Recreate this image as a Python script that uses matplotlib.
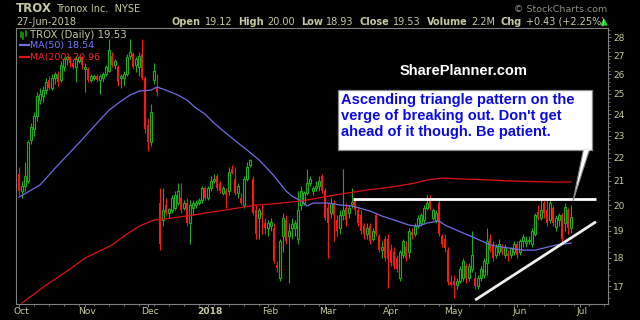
import matplotlib
matplotlib.use("Agg")
import matplotlib.pyplot as plt
import numpy as np
from matplotlib.patches import Rectangle, Polygon
from matplotlib.lines import Line2D
from matplotlib.ticker import FixedLocator, NullFormatter

# daily candles, Oct 2 2017 .. Jun 27 2018 (trading day index 0..184)
opens = [21.3, 20.6, 20.8, 21.0, 22.8, 23.3, 23.9, 24.7, 24.9, 25.2,
         25.7, 25.3, 25.8, 26.0, 25.7, 26.4, 26.8, 26.9, 26.6, 26.4,
         26.7, 26.9, 26.3, 26.3, 25.7, 25.8, 25.9, 25.7, 25.8, 26.0,
         26.2, 27.0, 26.5, 26.4, 25.8, 25.8, 26.0, 27.0, 27.1, 26.5,
         26.4, 27.1, 25.8, 23.5, 22.7, 25.7, 25.3, 20.1, 19.4, 20.0,
         19.7, 19.8, 19.9, 20.1, 20.3, 19.9, 20.1, 19.3, 19.9, 20.0,
         20.1, 20.2, 20.7, 20.3, 20.7, 21.0, 21.2, 20.9, 20.5, 20.6,
         20.6, 21.5, 21.1, 20.5, 20.3, 20.0, 21.1, 21.7, 21.1, 19.8,
         19.5, 19.7, 19.3, 19.1, 19.2, 19.1, 17.75, 17.3, 18.8, 19.4,
         18.8, 19.1, 19.1, 18.7, 20.0, 20.1, 20.5, 20.9, 20.6, 20.7,
         20.8, 21.2, 20.6, 19.9, 19.7, 20.1, 19.4, 19.1, 19.6, 19.9,
         19.7, 20.05, 20.2, 19.8, 19.6, 19.2, 18.9, 19.2, 18.7, 19.6,
         18.8, 18.3, 18.7, 18.7, 18.3, 18.2, 18.0, 17.3, 18.1, 18.4,
         18.2, 18.95, 18.9, 19.2, 19.3, 19.4, 19.9, 20.3, 19.5, 19.4,
         20.1, 18.8, 18.7, 18.3, 17.15, 17.2, 17.05, 17.2, 17.3, 17.7,
         17.3, 17.6, 17.3, 17.0, 17.3, 17.4, 17.8, 18.7, 18.5, 18.1,
         18.2, 18.4, 18.1, 18.15, 18.1, 18.2, 18.5, 18.2, 18.6, 18.55,
         18.6, 18.5, 18.9, 19.75, 19.5, 20.1, 19.8, 19.4, 19.9, 19.15,
         19.4, 19.6, 19.3, 19.8, 19.12]
highs = [21.6, 21.0, 21.8, 22.8, 23.6, 24.1, 25.1, 25.3, 25.4, 25.8,
         25.9, 26.0, 26.1, 26.2, 26.7, 26.9, 27.0, 27.0, 26.8, 27.0,
         27.0, 27.0, 26.6, 26.4, 26.0, 26.0, 26.0, 26.0, 26.1, 26.5,
         27.9, 27.2, 26.8, 26.5, 26.0, 26.2, 27.1, 27.9, 27.2, 26.9,
         27.2, 27.9, 25.9, 23.8, 24.5, 26.6, 26.0, 20.7, 20.7, 20.3,
         19.9, 20.4, 20.6, 20.9, 20.9, 20.2, 20.3, 20.2, 20.2, 20.2,
         20.3, 20.8, 20.8, 20.8, 21.2, 21.3, 21.3, 21.0, 20.8, 20.7,
         21.6, 21.7, 21.6, 20.9, 20.5, 21.2, 21.8, 21.95, 21.2, 20.0,
         19.9, 20.0, 19.5, 19.4, 19.5, 19.3, 17.9, 18.7, 19.7, 19.6,
         19.3, 19.5, 19.4, 20.6, 20.8, 20.6, 21.5, 21.2, 20.8, 21.0,
         21.2, 21.3, 20.7, 20.1, 20.3, 20.2, 19.6, 19.8, 21.5, 20.1,
         20.0, 20.7, 20.3, 19.9, 19.8, 19.3, 19.3, 19.3, 19.1, 19.7,
         18.9, 18.6, 18.8, 18.9, 18.5, 18.4, 18.1, 18.3, 18.7, 18.6,
         19.1, 19.1, 19.3, 19.6, 19.7, 20.0, 20.4, 20.4, 19.9, 19.8,
         20.2, 18.9, 18.9, 18.4, 17.4, 17.4, 17.3, 17.7, 18.0, 17.8,
         17.8, 19.0, 17.5, 17.4, 17.7, 18.0, 19.1, 18.9, 18.6, 18.5,
         18.7, 18.5, 18.5, 18.3, 18.4, 18.6, 18.6, 18.7, 18.9, 18.8,
         18.8, 19.1, 19.7, 20.0, 20.2, 20.2, 20.2, 20.2, 20.0, 19.6,
         19.7, 19.7, 20.1, 19.9, 20.0]
lows = [20.4, 20.3, 20.6, 20.9, 22.6, 23.0, 23.7, 24.5, 24.6, 25.0,
        25.2, 25.2, 25.5, 25.4, 25.6, 26.2, 26.5, 26.4, 26.3, 25.6,
        26.6, 26.3, 25.1, 25.6, 25.6, 25.7, 25.6, 25.0, 25.6, 25.9,
        26.1, 26.4, 26.3, 25.4, 25.3, 25.4, 25.9, 26.8, 26.3, 26.1,
        25.9, 25.7, 23.1, 22.3, 22.5, 25.5, 24.9, 18.3, 19.2, 19.6,
        19.5, 19.7, 19.8, 20.0, 19.7, 19.8, 19.2, 18.5, 19.6, 19.9,
        20.0, 20.1, 20.2, 20.2, 20.6, 20.9, 20.6, 20.5, 20.4, 19.9,
        20.4, 21.3, 20.4, 20.3, 20.0, 19.9, 21.0, 21.6, 19.6, 18.7,
        18.7, 18.9, 18.9, 18.8, 19.0, 17.8, 17.5, 17.2, 18.2, 18.5,
        17.1, 18.7, 18.8, 18.5, 19.8, 20.0, 20.4, 20.8, 20.4, 20.6,
        20.6, 20.5, 19.4, 18.0, 19.5, 18.6, 18.8, 18.9, 19.4, 19.2,
        19.5, 19.9, 19.6, 19.2, 18.9, 18.7, 18.7, 18.5, 18.6, 18.8,
        18.2, 18.0, 17.9, 16.95, 17.7, 17.6, 17.5, 17.2, 18.0, 17.9,
        18.0, 18.7, 18.8, 19.1, 19.2, 19.3, 19.8, 19.8, 19.4, 19.3,
        18.8, 18.4, 18.2, 17.05, 17.0, 16.6, 16.9, 17.1, 17.2, 17.1,
        17.2, 17.5, 16.9, 16.9, 17.2, 17.3, 17.4, 18.2, 17.9, 18.0,
        18.1, 18.1, 18.0, 17.9, 18.0, 18.1, 18.0, 18.1, 18.4, 18.4,
        18.5, 18.4, 18.8, 19.4, 19.4, 19.5, 19.2, 19.3, 19.2, 19.0,
        19.2, 18.5, 19.0, 18.9, 18.93]
closes = [20.6, 20.8, 21.2, 22.7, 23.4, 23.9, 24.9, 25.0, 25.2, 25.6,
          25.3, 25.8, 26.0, 25.6, 26.5, 26.8, 26.9, 26.6, 26.4, 26.8,
          26.9, 26.5, 26.4, 25.7, 25.9, 25.9, 25.7, 25.9, 26.0, 26.4,
          27.3, 26.5, 26.7, 25.6, 25.9, 26.0, 26.9, 27.2, 26.4, 26.8,
          27.0, 25.8, 23.3, 22.7, 24.1, 26.2, 25.1, 18.5, 19.8, 19.7,
          19.85, 20.3, 20.4, 20.6, 19.8, 20.1, 19.3, 20.0, 20.1, 20.1,
          20.2, 20.7, 20.3, 20.7, 21.0, 21.1, 20.7, 20.6, 20.7, 20.4,
          21.4, 21.35, 20.5, 20.8, 20.1, 21.1, 21.6, 21.9, 19.7, 18.9,
          19.8, 19.6, 19.1, 19.3, 19.35, 17.9, 17.65, 18.6, 19.5, 18.6,
          19.0, 19.25, 19.3, 19.8, 20.6, 20.5, 20.9, 21.1, 20.7, 20.8,
          21.0, 20.6, 19.5, 19.3, 20.1, 19.6, 19.0, 19.6, 19.8, 19.4,
          19.9, 20.15, 19.8, 19.3, 19.0, 18.9, 19.1, 18.6, 19.0, 18.9,
          18.3, 18.4, 18.0, 17.95, 17.8, 17.7, 17.6, 18.2, 18.6, 18.0,
          19.0, 18.85, 19.2, 19.5, 19.6, 19.9, 20.1, 19.9, 19.8, 19.7,
          18.9, 18.5, 18.35, 17.15, 17.05, 17.05, 17.2, 17.6, 17.9, 17.3,
          17.7, 18.1, 17.0, 17.3, 17.6, 17.9, 18.6, 18.3, 18.0, 18.4,
          18.5, 18.2, 18.4, 18.05, 18.35, 18.5, 18.1, 18.6, 18.75, 18.6,
          18.65, 19.0, 19.6, 19.5, 19.8, 19.7, 19.3, 20.1, 19.3, 19.5,
          19.6, 18.7, 19.95, 19.1, 19.53]

# moving averages (day index, value)
ma50_idx = [0, 7, 13, 20, 26, 30, 34, 37, 40, 44, 46, 49, 53, 56, 59, 62, 65, 69,
            73, 76, 80, 82, 85, 89, 91, 94, 96, 98, 103, 107, 111, 117, 121, 125,
            130, 133, 136, 140, 142, 148, 152, 157, 163, 168, 172, 175, 179, 181, 184]
ma50_val = [20.33, 20.83, 21.68, 22.66, 23.58, 24.20, 24.64, 24.94, 25.14, 25.19,
            25.35, 25.19, 24.94, 24.69, 24.30, 24.01, 23.58, 23.11, 22.66, 22.34,
            21.90, 21.63, 21.21, 20.58, 20.37, 20.17, 19.97, 20.09, 20.09, 20.01,
            19.97, 19.77, 19.57, 19.42, 19.22, 19.18, 19.30, 19.38, 19.22, 18.92,
            18.73, 18.47, 18.36, 18.28, 18.28, 18.36, 18.47, 18.50, 18.54]
ma200_idx = [1, 9, 16, 22, 31, 35, 40, 45, 48, 53, 58, 62, 73, 79, 84, 94, 105,
             116, 125, 132, 136, 141, 148, 157, 163, 179, 184]
ma200_val = [16.44, 17.04, 17.53, 17.99, 18.47, 18.80, 19.18, 19.42, 19.45, 19.53,
             19.61, 19.69, 19.89, 20.01, 20.05, 20.17, 20.41, 20.62, 20.76, 20.91,
             21.04, 21.12, 21.08, 21.04, 21.00, 20.95, 20.96]

month_labels = ['Oct', 'Nov', 'Dec', '2018', 'Feb', 'Mar', 'Apr', 'May', 'Jun', 'Jul']
month_idx = [0, 22, 43, 63, 83, 102, 123, 144, 166, 187]
price_ticks = list(range(17, 29))

# drawn trend lines (day index, price)
resist_x = [111.3, 192.3]
resist_y = [20.25, 20.25]
support_x = [152, 192.3]
support_y = [16.54, 19.35]

note = ("Ascending triangle pattern on the\n"
        "verge of breaking out. Don't get\n"
        "ahead of it though. Be patient.")

KHAKI = '#c8c8a0'
FRAME = '#808080'
UP = '#1aaa1a'
DOWN = '#ff1414'
MA50C = '#6e6ee6'
MA200C = '#e01010'
W, H = 640, 320

fig = plt.figure(figsize=(6.4, 3.2), dpi=100, facecolor='black')
ax = fig.add_axes([16 / W, 16 / H, 592 / W, 276 / H], facecolor='black')

x = np.arange(len(closes))
o = np.array(opens); h = np.array(highs); l = np.array(lows); c = np.array(closes)
up = c >= o
dn = ~up

# wicks first, bodies over them
ax.vlines(x[up], l[up], h[up], color=UP, lw=0.8, zorder=2)
ax.vlines(x[dn], l[dn], h[dn], color=DOWN, lw=0.8, zorder=2)
ax.bar(x[up], c[up] - o[up], bottom=o[up], width=0.68, facecolor='black',
       edgecolor=UP, linewidth=0.85, zorder=3)
ax.bar(x[dn], o[dn] - c[dn], bottom=c[dn], width=0.9, color=DOWN,
       linewidth=0, zorder=3)

ax.plot(ma50_idx, ma50_val, color=MA50C, lw=0.9, zorder=4)
ax.plot(ma200_idx, ma200_val, color=MA200C, lw=0.9, zorder=4)

ax.plot(resist_x, resist_y, color='white', lw=2.0, solid_capstyle='butt', zorder=5)
ax.plot(support_x, support_y, color='#eeeeee', lw=2.0, solid_capstyle='butt', zorder=5)

ax.set_yscale('log')
ax.set_xlim(-1, 196.3)
ax.set_ylim(16.41, 28.53)

ax.yaxis.tick_right()
ax.yaxis.set_major_locator(FixedLocator(price_ticks))
ax.yaxis.set_major_formatter(plt.FixedFormatter([str(t) for t in price_ticks]))
ax.yaxis.set_minor_locator(FixedLocator(np.arange(16.6, 28.6, 0.2)))
ax.yaxis.set_minor_formatter(NullFormatter())
ax.tick_params(axis='y', which='major', colors=FRAME, labelcolor=KHAKI,
               length=2.5, width=0.7, pad=1, labelsize=6.5)
ax.tick_params(axis='y', which='minor', colors=FRAME, length=1.2, width=0.6)

ax.xaxis.set_major_locator(FixedLocator(month_idx))
ax.xaxis.set_major_formatter(NullFormatter())
ax.xaxis.set_minor_locator(FixedLocator(np.arange(0, 196, 5)))
ax.tick_params(axis='x', which='major', colors=FRAME, length=2.5, width=0.7)
ax.tick_params(axis='x', which='minor', colors=FRAME, length=1.2, width=0.6)
for s in ax.spines.values():
    s.set_color(FRAME)
    s.set_linewidth(0.8)

for lab, mi in zip(month_labels, month_idx):
    ax.text(mi + 0.8, -0.028, lab, transform=ax.get_xaxis_transform(),
            ha='center', va='center', fontsize=6.6, color=KHAKI,
            fontweight='bold' if lab == '2018' else 'normal')


def fx(px):
    return px / W


def fy(py):
    return 1 - py / H


# header
fig.text(fx(16), fy(9), 'TROX', fontsize=8.5, fontweight='bold', color=KHAKI, va='center')
fig.text(fx(56), fy(9), 'Tronox Inc.  NYSE', fontsize=7, color=KHAKI, va='center')
fig.text(fx(16), fy(22), '27-Jun-2018', fontsize=7, color=KHAKI, va='center')
fig.text(fx(607), fy(9), '\u00a9 StockCharts.com', fontsize=6.8, color='#8c8c80',
         ha='right', va='center')

renderer = fig.canvas.get_renderer()
parts = [('Open', True), ('19.12', False), ('High', True), ('20.00', False),
         ('Low', True), ('18.93', False), ('Close', True), ('19.53', False),
         ('Volume', True), ('2.2M', False), ('Chg', True), ('+0.43 (+2.25%)', False)]
px = 172
for s, bold in parts:
    t = fig.text(fx(px), fy(22), s, fontsize=7, color=KHAKI, va='center',
                 fontweight='bold' if bold else 'normal')
    px += t.get_window_extent(renderer).width + (3.5 if bold else 6)
tri = Polygon([[fx(601), fy(25)], [fx(607), fy(25)], [fx(604), fy(19.5)]],
              closed=True, transform=fig.transFigure, color='#22cc22')
fig.add_artist(tri)

# legend in the plot corner
for xx, y0, y1 in [(20.5, 32, 37), (23, 33, 38.5), (25.5, 31, 36)]:
    fig.add_artist(Line2D([fx(xx), fx(xx)], [fy(y0), fy(y1)], color=UP, lw=1.1,
                          transform=fig.transFigure))
fig.text(fx(30), fy(34.5), 'TROX (Daily) 19.53', fontsize=7.3, color=KHAKI, va='center')
fig.add_artist(Line2D([fx(20), fx(29)], [fy(45), fy(45)], color=MA50C, lw=1.6,
                      transform=fig.transFigure))
fig.text(fx(30), fy(45.5), 'MA(50) 18.54', fontsize=6.8, color='#7a7aff', va='center')
fig.add_artist(Line2D([fx(20), fx(29)], [fy(57), fy(57)], color=MA200C, lw=1.6,
                      transform=fig.transFigure))
fig.text(fx(30), fy(57.5), 'MA(200) 20.96', fontsize=6.8, color='#ff2020', va='center')

# annotation
fig.text(fx(400), fy(71), 'SharePlanner.com', fontsize=10.5, fontweight='bold',
         color='white', va='center', family='Liberation Sans')
box = Rectangle((fx(338), fy(150)), (592 - 338) / W, 60 / H, transform=fig.transFigure,
                facecolor='white', edgecolor='#8a8a8a', lw=0.9, zorder=6)
fig.add_artist(box)
tail = Polygon([[fx(583.5), fy(149.5)], [fx(589.5), fy(149.5)], [fx(573), fy(201)]],
               closed=True, transform=fig.transFigure, facecolor='white',
               edgecolor='#8a8a8a', lw=0.8, zorder=6)
fig.add_artist(tail)
fig.add_artist(Line2D([fx(584.2), fx(588.8)], [fy(150), fy(150)], color='white', lw=1.2,
                      transform=fig.transFigure, zorder=7))
fig.text(fx(341), fy(93), note, fontsize=10.5, fontweight='bold', color='#0a0ae6',
         va='top', ha='left', family='Liberation Sans', linespacing=1.17, zorder=8)

fig.savefig('out.png', dpi=100, facecolor='black')
